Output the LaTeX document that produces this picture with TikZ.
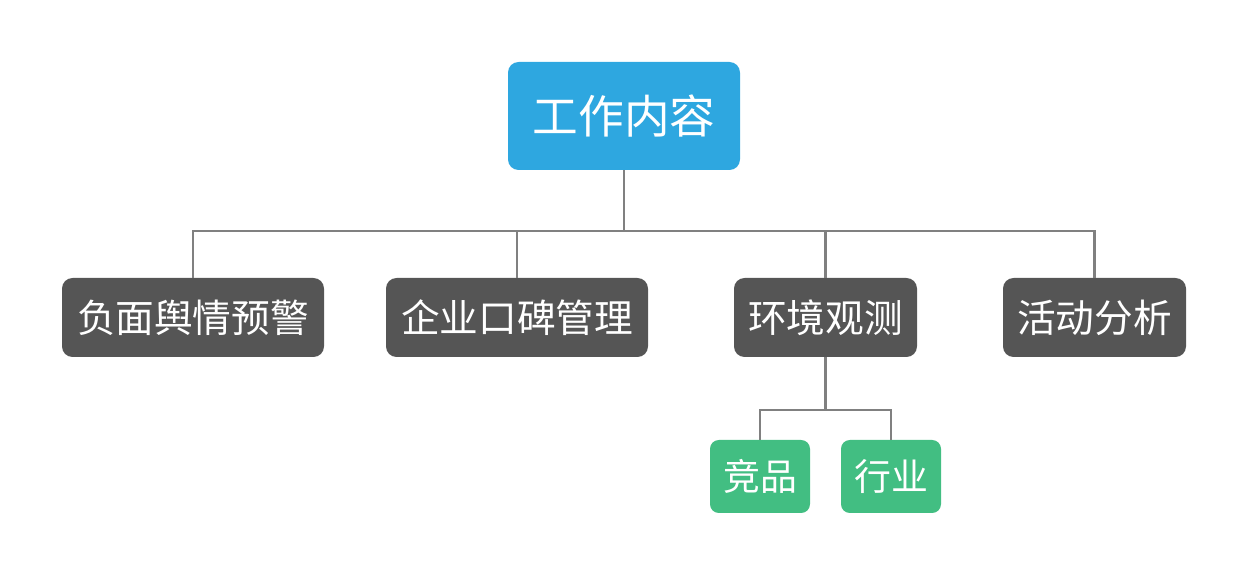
\documentclass[tikz,border=0pt]{standalone}
\usepackage{fontspec}
\setmainfont{Noto Sans CJK SC}
\definecolor{rootblue}{RGB}{46,167,224}
\definecolor{taskgrey}{RGB}{85,85,85}
\definecolor{subgreen}{RGB}{66,190,130}
\definecolor{linkgrey}{RGB}{128,128,128}
\begin{document}
\begin{tikzpicture}[
  root/.style={shape=rectangle,fill=rootblue,text=white,rounded corners=6pt,
    minimum width=4.64cm,minimum height=2.16cm,font=\fontsize{26}{31}\selectfont},
  task/.style={shape=rectangle,fill=taskgrey,text=white,rounded corners=6pt,
    minimum height=1.58cm,font=\fontsize{22}{26}\selectfont},
  sub/.style={shape=rectangle,fill=subgreen,text=white,rounded corners=5pt,
    minimum width=2cm,minimum height=1.46cm,font=\fontsize{21}{25}\selectfont},
  link/.style={draw=linkgrey,line width=1.2pt}
]
  \useasboundingbox (0,0) rectangle (24.96,11.52);

  \node[root] (work) at (12.48,9.2) {工作内容};

  \node[task,minimum width=5.24cm] (warn)     at (3.86,5.17)  {负面舆情预警};
  \node[task,minimum width=5.24cm] (praise)   at (10.34,5.17) {企业口碑管理};
  \node[task,minimum width=3.66cm] (observe)  at (16.51,5.17) {环境观测};
  \node[task,minimum width=3.66cm] (activity) at (21.89,5.17) {活动分析};

  \node[sub] (rival)    at (15.2,1.99)  {竞品};
  \node[sub] (industry) at (17.82,1.99) {行业};

  \coordinate (bus)    at (12.48,6.9);
  \coordinate (subbus) at (16.51,3.32);

  \draw[link] (work.south) -- (bus);
  \draw[link] (warn.north) |- (bus);
  \draw[link] (praise.north) |- (bus);
  \draw[link] (observe.north) |- (bus);
  \draw[link] (activity.north) |- (bus);

  \draw[link] (observe.south) -- (subbus);
  \draw[link] (rival.north) |- (subbus);
  \draw[link] (industry.north) |- (subbus);
\end{tikzpicture}
\end{document}
